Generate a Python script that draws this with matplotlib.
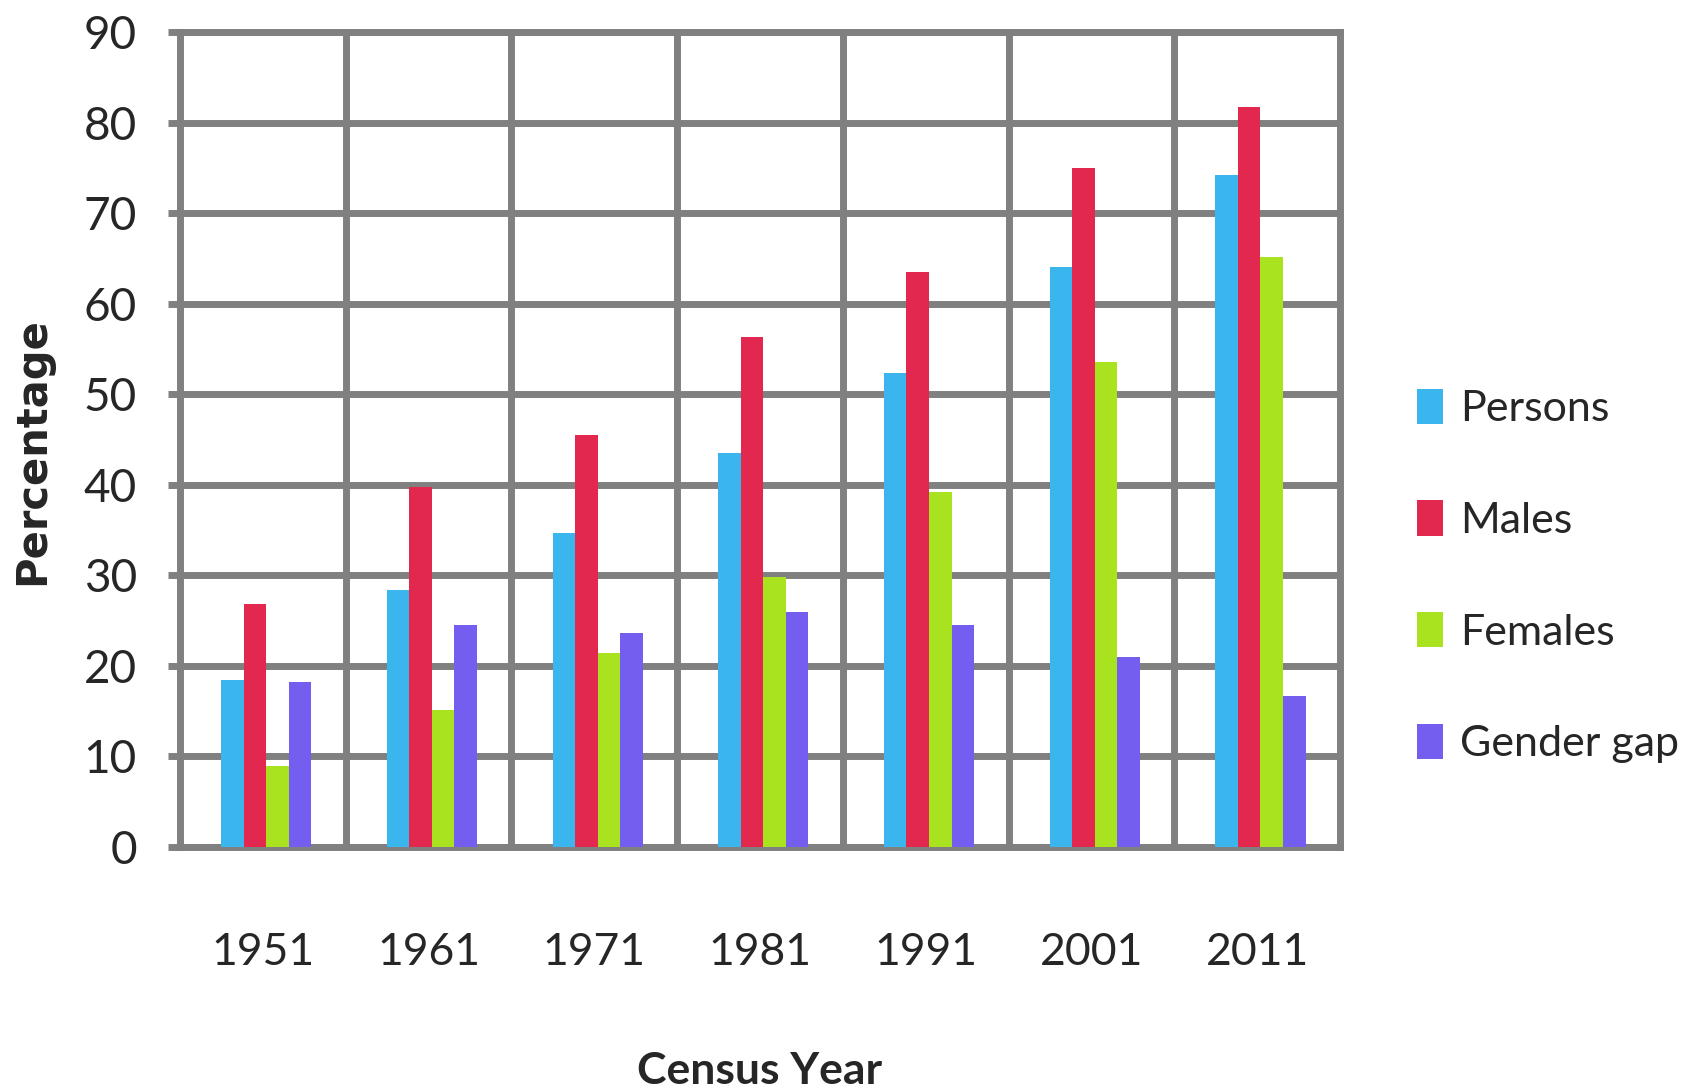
import numpy as np
import matplotlib
matplotlib.use('Agg')
import matplotlib.pyplot as plt

# literacy rates by census year
years = ['1951', '1961', '1971', '1981', '1991', '2001', '2011']
persons = [18.4, 28.4, 34.7, 43.5, 52.3, 64.1, 74.2]
males = [26.8, 39.8, 45.5, 56.3, 63.5, 75.0, 81.7]
females = [9.0, 15.1, 21.4, 29.8, 39.2, 53.6, 65.1]
gender_gap = [18.2, 24.5, 23.6, 26.0, 24.5, 21.0, 16.7]

series_names = ['Persons', 'Males', 'Females', 'Gender gap']
series_colors = ['#3bb5ee', '#e3284f', '#a9e31f', '#735ef0']

plt.rcParams['font.family'] = ['Lato', 'DejaVu Sans']
text_color = '#262626'
grid_color = '#808080'

fig = plt.figure(figsize=(16.96, 10.91), dpi=100)
ax = fig.add_axes([180/1696, 1-847/1091, 1160/1696, 815/1091])

x = np.arange(len(years))
w = 0.136
data = [persons, males, females, gender_gap]
for i in range(4):
	ax.bar(x + (i-1.5)*w + 0.02, data[i], width=w, color=series_colors[i],
		label=series_names[i], zorder=3)

ax.set_xlim(-0.5, len(years)-0.5)
ax.set_ylim(0, 90)
ax.set_yticks(range(0, 91, 10))
ax.set_xticks(x)
ax.set_xticklabels(years)
# category gridlines sit between groups
ax.set_xticks(np.arange(0.5, len(years)-0.5, 1), minor=True)
ax.grid(True, axis='y', which='major', color=grid_color, linewidth=5, zorder=1)
ax.grid(True, axis='x', which='minor', color=grid_color, linewidth=5, zorder=1)
ax.tick_params(axis='x', which='both', length=0, pad=61, labelsize=32, labelcolor=text_color)
ax.tick_params(axis='y', length=9, width=5, color=grid_color, pad=22, labelsize=33,
	labelcolor=text_color)
for s in ax.spines.values():
	s.set_color(grid_color)
	s.set_linewidth(5)

ax.set_xlabel('Census Year', fontsize=32, fontweight='bold', color=text_color)
ax.xaxis.set_label_coords(0.5, -0.25)
ax.set_ylabel('Percentage', fontsize=30, fontweight='bold', color=text_color,
	family=['DejaVu Sans'])
ax.yaxis.set_label_coords(-0.1095, 0.486)

fig.legend(loc='center left', bbox_to_anchor=(1417/1696, 1-576/1091), frameon=False,
	fontsize=31, handlelength=0.6, handleheight=0.88, handletextpad=0.4,
	labelspacing=1.68, borderpad=0, borderaxespad=0, labelcolor=text_color)

fig.savefig('out.png', dpi=100, facecolor='white')
